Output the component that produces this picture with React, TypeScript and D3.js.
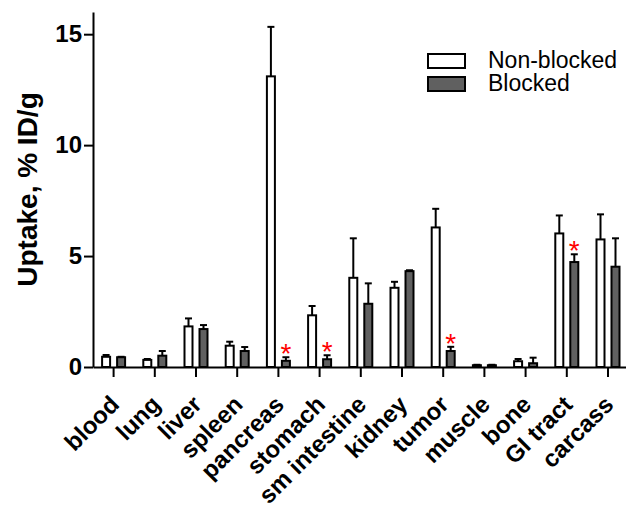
import { useEffect, useRef } from 'react';
import * as d3 from 'd3';

const categories = ['blood', 'lung', 'liver', 'spleen', 'pancreas', 'stomach', 'sm intestine', 'kidney', 'tumor', 'muscle', 'bone', 'GI tract', 'carcass'];
const seriesNames = ['Non-blocked', 'Blocked'];
const nonBlocked = [0.46, 0.32, 1.83, 0.96, 13.1, 2.33, 4.02, 3.57, 6.29, 0.08, 0.26, 6.02, 5.75];
const nonBlockedErr = [0.08, 0.04, 0.36, 0.18, 2.23, 0.42, 1.78, 0.27, 0.84, 0.02, 0.1, 0.81, 1.13];
const blocked = [0.44, 0.51, 1.71, 0.72, 0.28, 0.35, 2.85, 4.32, 0.72, 0.08, 0.17, 4.73, 4.52];
const blockedErr = [0.02, 0.21, 0.18, 0.18, 0.16, 0.18, 0.92, 0.04, 0.19, 0.02, 0.25, 0.35, 1.28];
const significant = ['pancreas', 'stomach', 'tumor', 'GI tract'];
const yTicks = [0, 5, 10, 15];

const WIDTH = 626;
const HEIGHT = 512;
const FONT = '"Liberation Sans", Arial, sans-serif';
const fills = ['#ffffff', '#606060'];

export default function App() {
  const svgRef = useRef<SVGSVGElement | null>(null);

  useEffect(() => {
    const el = svgRef.current;
    if (!el) return;
    const svg = d3.select(el);
    svg.selectAll('*').remove();

    const left = 93;
    const top = 12;
    const baseY = 367;

    const x0 = d3.scaleBand().domain(categories).range([left, left + 41.2 * 13]).padding(0);
    const bw = x0.bandwidth();
    const x1 = d3
      .scaleBand()
      .domain(seriesNames)
      .range([bw / 2 - 12.5, bw / 2 + 12.5])
      .paddingInner(1 / 3)
      .paddingOuter(0);
    const y = d3.scaleLinear().domain([0, 16]).range([baseY, top]);

    const rows = categories.map((c, i) => ({
      cat: c,
      vals: [
        { s: seriesNames[0], v: nonBlocked[i], e: nonBlockedErr[i], fill: fills[0] },
        { s: seriesNames[1], v: blocked[i], e: blockedErr[i], fill: fills[1] }
      ]
    }));

    const groups = svg
      .selectAll('.cat')
      .data(rows)
      .join('g')
      .attr('class', 'cat')
      .attr('transform', (d) => `translate(${x0(d.cat)},0)`);

    const bars = groups
      .selectAll('.bar')
      .data((d) => d.vals)
      .join('g')
      .attr('class', 'bar');

    // error bars, upper half only
    bars
      .append('line')
      .attr('x1', (d) => (x1(d.s) ?? 0) + x1.bandwidth() / 2)
      .attr('x2', (d) => (x1(d.s) ?? 0) + x1.bandwidth() / 2)
      .attr('y1', (d) => y(d.v))
      .attr('y2', (d) => y(d.v + d.e))
      .attr('stroke', '#000')
      .attr('stroke-width', 2);
    bars
      .append('line')
      .attr('x1', (d) => (x1(d.s) ?? 0) + x1.bandwidth() / 2 - 3.5)
      .attr('x2', (d) => (x1(d.s) ?? 0) + x1.bandwidth() / 2 + 3.5)
      .attr('y1', (d) => y(d.v + d.e))
      .attr('y2', (d) => y(d.v + d.e))
      .attr('stroke', '#000')
      .attr('stroke-width', 2);

    bars
      .append('rect')
      .attr('x', (d) => (x1(d.s) ?? 0) + 1)
      .attr('width', x1.bandwidth() - 2)
      .attr('y', (d) => y(d.v))
      .attr('height', (d) => Math.max(baseY - y(d.v), 1))
      .attr('fill', (d) => d.fill)
      .attr('stroke', '#000')
      .attr('stroke-width', 2);

    // significance stars
    groups
      .filter((d) => significant.includes(d.cat))
      .append('text')
      .attr('x', (x1(seriesNames[1]) ?? 0) + x1.bandwidth() / 2)
      .attr('y', (d) => y(d.vals[1].v + d.vals[1].e) + 6)
      .attr('text-anchor', 'middle')
      .attr('fill', '#ff0000')
      .attr('font-family', FONT)
      .attr('font-size', 28)
      .text('*');

    // axes
    const yAxis = svg
      .append('g')
      .attr('transform', `translate(${left},0)`)
      .call(d3.axisLeft(y).tickValues(yTicks).tickSize(9).tickPadding(2).tickSizeOuter(0));
    yAxis.select('.domain').attr('stroke-width', 2);
    yAxis.selectAll('.tick line').attr('stroke-width', 2);
    yAxis
      .selectAll('.tick text')
      .attr('font-family', FONT)
      .attr('font-size', 24)
      .attr('font-weight', 'bold')
      .attr('fill', '#000');

    const xAxis = svg
      .append('g')
      .attr('transform', `translate(0,${baseY})`)
      .call(d3.axisBottom(x0).tickSize(10).tickSizeOuter(0));
    xAxis.select('.domain').attr('stroke-width', 2);
    xAxis.selectAll('.tick line').attr('stroke-width', 2);
    xAxis
      .selectAll('.tick text')
      .attr('font-family', FONT)
      .attr('font-size', 24)
      .attr('font-weight', 'bold')
      .attr('fill', '#000')
      .attr('text-anchor', 'end')
      .attr('dy', null)
      .attr('y', null)
      .attr('transform', 'translate(7,39) rotate(-45)');

    svg
      .append('text')
      .attr('transform', `translate(37,${(top + baseY) / 2}) rotate(-90)`)
      .attr('text-anchor', 'middle')
      .attr('font-family', FONT)
      .attr('font-size', 28)
      .attr('font-weight', 'bold')
      .text('Uptake, % ID/g');

    // legend
    const legend = svg
      .selectAll('.legend')
      .data(seriesNames)
      .join('g')
      .attr('class', 'legend')
      .attr('transform', (_, i) => `translate(428,${54 + i * 23})`);
    legend
      .append('rect')
      .attr('width', 37)
      .attr('height', 14)
      .attr('fill', (_, i) => fills[i])
      .attr('stroke', '#000')
      .attr('stroke-width', 2);
    legend
      .append('text')
      .attr('x', 60)
      .attr('y', 14)
      .attr('font-family', FONT)
      .attr('font-size', 23)
      .text((d) => d);
  }, []);

  return (
    <svg
      ref={svgRef}
      width={WIDTH}
      height={HEIGHT}
      style={{ position: 'absolute', left: 0, top: 0, background: '#fff' }}
    />
  );
}
